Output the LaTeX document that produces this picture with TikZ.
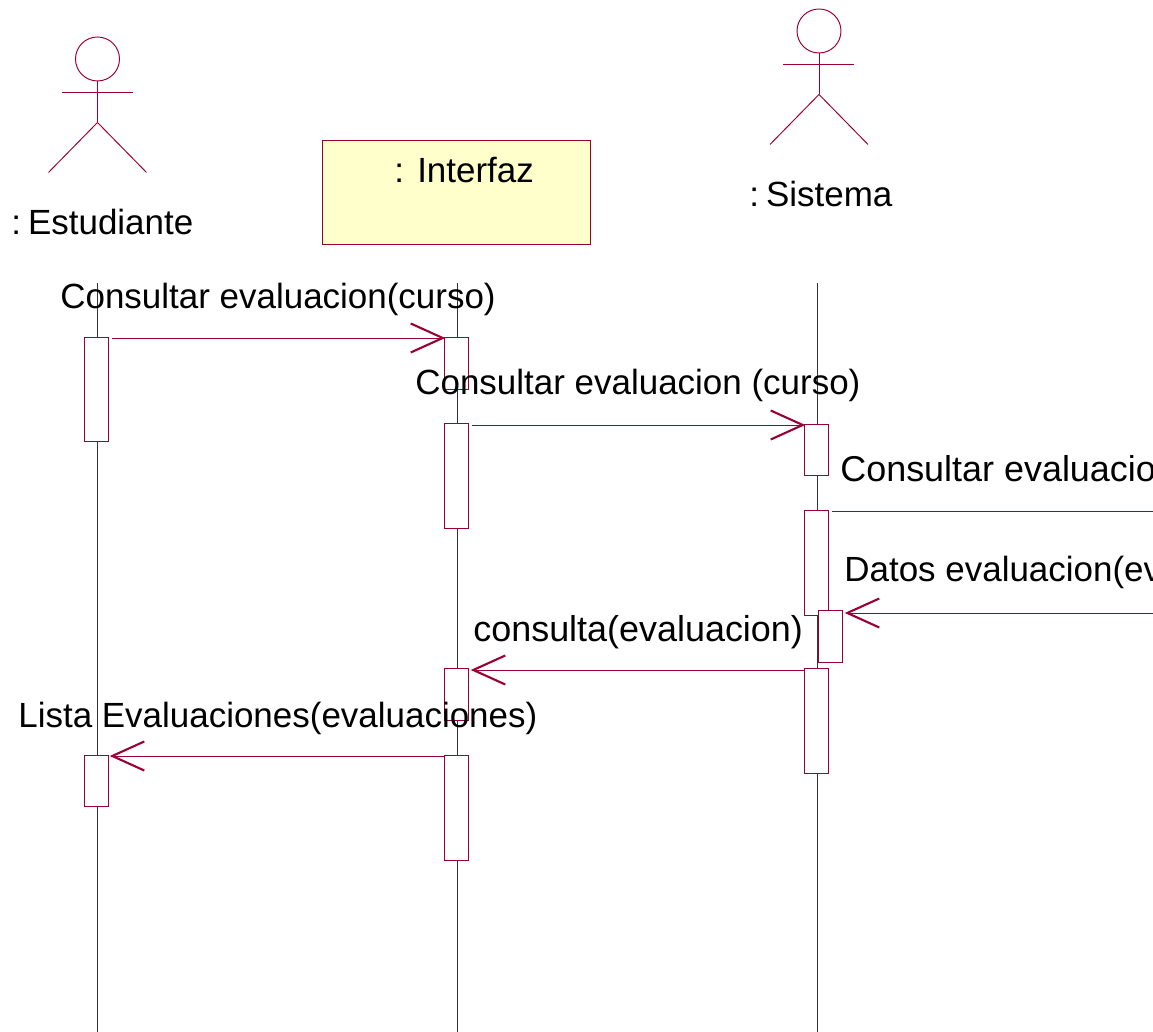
\documentclass[tikz,border=0pt]{standalone}
\usepackage{fontspec}
\setmainfont{Liberation Sans}
\usetikzlibrary{arrows.meta}
\definecolor{umlred}{RGB}{153,0,51}
\definecolor{umlfill}{RGB}{255,255,204}
\tikzstyle{edge} = [draw=umlred,line width=0.55pt]
\tikzstyle{life} = [draw=black!80,line width=0.5pt]
\tikzstyle{actbox} = [edge,fill=white,inner sep=0,minimum width=0.48cm]
\tikzstyle{msg} = [edge,shorten >=-1pt,-{Straight Barb[length=0.64cm,width=0.58cm,line width=1.2pt]}]
\tikzstyle{lbl} = [inner sep=0,font=\fontsize{19.9}{22}\selectfont,anchor=base west]
\tikzstyle{lblbig} = [lbl,font=\fontsize{20.45}{22}\selectfont]
\newcommand{\actor}[2]{%
  \node[edge,circle,inner sep=0,minimum size=0.88cm] (#2head) at (#1) {};
  \draw[edge] (#2head.south) -- ++(0,-0.82) coordinate (#2hip);
  \draw[edge] ([shift={(-0.72,-0.22)}]#2head.south) -- ++(1.42,0);
  \draw[edge] (#2hip) -- ++(-0.98,-1.0);
  \draw[edge] (#2hip) -- ++(0.98,-1.0);
}
\begin{document}
\begin{tikzpicture}

    \clip (0,0) rectangle (23.06,20.64);

    % lifelines
    \coordinate (Etop) at (1.95,14.98);
    \coordinate (Ebot) at (1.95,0);
    \coordinate (Itop) at (9.15,14.98);
    \coordinate (Ibot) at (9.15,0);
    \coordinate (Stop) at (16.35,14.98);
    \coordinate (Sbot) at (16.35,0);
    \draw[life] (Etop) -- (Ebot);
    \draw[life] (Itop) -- (Ibot);
    \draw[life] (Stop) -- (Sbot);

    % actors
    \actor{1.95,19.46}{E}
    \actor{16.38,20.02}{S}
    \node[lbl] (Elabel) at (0.22,15.95) {:\kern0.2em Estudiante};
    \node[lbl] (Slabel) at (14.98,16.50) {:\kern0.2em Sistema};

    \node[edge,fill=umlfill,minimum width=5.36cm,minimum height=2.08cm,inner sep=0] (Ibox) at (9.13,16.80) {};
    \node[lbl] (Ilabel) at (7.88,16.98) {:\ \kern0.1em Interfaz};

    % activations
    \node[actbox,minimum height=2.08cm] (E1) at (1.92,12.86) {};
    \node[actbox,minimum height=1.02cm] (E2) at (1.92,5.03) {};
    \node[actbox,minimum height=1.04cm] (I1) at (9.12,13.38) {};
    \node[actbox,minimum height=2.10cm] (I2) at (9.12,11.12) {};
    \node[actbox,minimum height=1.04cm] (I3) at (9.12,6.76) {};
    \node[actbox,minimum height=2.10cm] (I4) at (9.12,4.49) {};
    \node[actbox,minimum height=1.02cm] (S1) at (16.32,11.65) {};
    \node[actbox,minimum height=2.10cm] (S2) at (16.32,9.39) {};
    \node[actbox,minimum height=1.04cm] (S3) at (16.60,7.92) {};
    \node[actbox,minimum height=2.10cm] (S4) at (16.32,6.23) {};

    % messages
    \coordinate (m1) at (2.24,13.88);
    \coordinate (m2) at (9.44,12.14);
    \coordinate (m3) at (16.64,10.42);
    \coordinate (m3e) at (23.06,10.42);
    \coordinate (m4) at (23.06,8.38);
    \coordinate (m5) at (16.08,7.24);
    \coordinate (m6) at (8.88,5.52);
    \draw[msg] (m1) -- (m1 -| I1.west);
    \draw[msg] (m2) -- (m2 -| S1.west);
    \draw[edge] (m3) -- (m3e);
    \draw[msg] (m4) -- ([xshift=0.08cm]m4 -| S3.east);
    \draw[msg] (m5) -- ([xshift=0.08cm]m5 -| I3.east);
    \draw[msg] (m6) -- ([xshift=0.06cm]m6 -| E2.east);

    \node[lbl] (l1) at (1.20,14.46) {Consultar evaluacion(curso)};
    \node[lbl] (l2) at (8.30,12.74) {Consultar evaluacion (curso)};
    \node[lblbig] (l3) at (16.80,11.00) {Consultar evaluacion};
    \node[lbl] (l4) at (16.88,9.00) {Datos evaluacion(ev};
    \node[lblbig] (l5) at (9.46,7.80) {consulta(evaluacion)};
    \node[lbl] (l6) at (0.36,6.08) {Lista Evaluaciones(evaluaciones)};

\end{tikzpicture}
\end{document}
